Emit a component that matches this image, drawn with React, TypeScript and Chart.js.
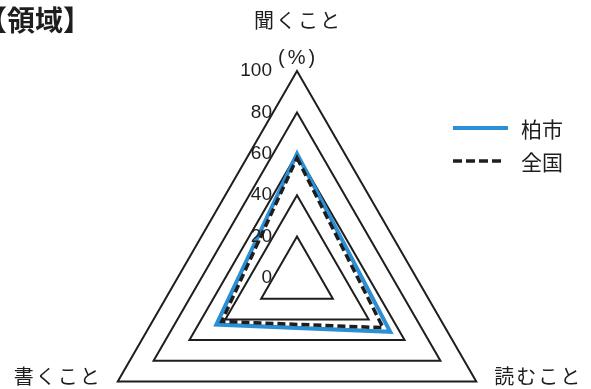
import { useEffect, useRef } from 'react';
import { Chart, registerables } from 'chart.js';

Chart.register(...registerables);

const categories = ['聞くこと', '読むこと', '書くこと'];
const seriesNames = ['柏市', '全国'];
const kashiwaValues = [60, 52, 45];
const nationalValues = [58, 48, 42];
const tickValues = [0, 20, 40, 60, 80, 100];
const titleText = '【領域】';
const unitText = '(%)';

const BLUE = '#2b8fd6';
const DARK = '#1e1e1e';
const JP = '"Noto Sans CJK JP", "Noto Sans", sans-serif';

const overlayPlugin = {
  id: 'overlay',
  afterDraw(chart: any) {
    const ctx = chart.ctx as CanvasRenderingContext2D;
    const scale = chart.scales.r;
    ctx.save();
    ctx.fillStyle = DARK;

    // title
    ctx.font = `bold 28px ${JP}`;
    ctx.textAlign = 'left';
    ctx.textBaseline = 'middle';
    ctx.fillText(titleText, -21, 20);

    // point labels
    ctx.font = `20px ${JP}`;
    (ctx as any).letterSpacing = '2px';
    const p0 = scale.getPointPositionForValue(0, 100);
    const p1 = scale.getPointPositionForValue(1, 100);
    const p2 = scale.getPointPositionForValue(2, 100);
    ctx.textAlign = 'center';
    ctx.fillText(categories[0], p0.x + 1, p0.y - 51);
    ctx.textAlign = 'left';
    ctx.fillText(categories[1], p1.x + 18, p1.y - 5);
    ctx.textAlign = 'right';
    ctx.fillText(categories[2], p2.x - 16, p2.y - 5);

    // tick labels
    (ctx as any).letterSpacing = '0px';
    ctx.font = '19px "Liberation Sans", Arial, sans-serif';
    ctx.textAlign = 'right';
    tickValues.forEach((v) => {
      const d = scale.getDistanceFromCenterForValue(v);
      ctx.fillText(String(v), scale.xCenter - 25, scale.yCenter - d);
    });

    // unit
    (ctx as any).letterSpacing = '3px';
    ctx.font = '20px "Liberation Sans", Arial, sans-serif';
    ctx.textAlign = 'left';
    ctx.fillText(unitText, scale.xCenter - 19, scale.yCenter - scale.getDistanceFromCenterForValue(100) - 13);
    (ctx as any).letterSpacing = '0px';

    // legend
    const ds = chart.data.datasets;
    const rows = [128, 161];
    rows.forEach((y, i) => {
      ctx.save();
      ctx.strokeStyle = ds[i].borderColor;
      ctx.lineWidth = i === 0 ? 4 : 3.5;
      ctx.setLineDash(i === 0 ? [] : [9, 4]);
      ctx.beginPath();
      ctx.moveTo(453, y);
      ctx.lineTo(i === 0 ? 508 : 502, y);
      ctx.stroke();
      ctx.restore();
      ctx.font = `21px ${JP}`;
      ctx.textAlign = 'left';
      ctx.textBaseline = 'middle';
      ctx.fillStyle = DARK;
      ctx.fillText(seriesNames[i], 521, y + 1);
    });

    ctx.restore();
  },
};

export default function App() {
  const ref = useRef<HTMLCanvasElement | null>(null);

  useEffect(() => {
    if (!ref.current) return;
    const chart = new Chart(ref.current, {
      type: 'radar',
      data: {
        labels: categories,
        datasets: [
          {
            label: seriesNames[0],
            data: kashiwaValues,
            borderColor: BLUE,
            borderWidth: 4,
            pointRadius: 0,
            fill: false,
            order: 2,
            borderJoinStyle: 'miter',
          } as any,
          {
            label: seriesNames[1],
            data: nationalValues,
            borderColor: DARK,
            borderWidth: 3.5,
            borderDash: [8, 4],
            pointRadius: 0,
            fill: false,
            order: 1,
            borderJoinStyle: 'miter',
          } as any,
        ],
      },
      options: {
        responsive: false,
        animation: false,
        devicePixelRatio: 1,
        layout: { padding: { left: 90, right: 87, top: 71, bottom: 1 } },
        plugins: {
          legend: { display: false },
          title: { display: false },
          tooltip: { enabled: false },
        },
        elements: { line: { tension: 0 } },
        scales: {
          r: {
            min: 0,
            max: 100,
            ticks: { stepSize: 20, display: false },
            grid: { color: DARK, lineWidth: 2, circular: false },
            angleLines: { display: false },
            pointLabels: { display: false },
          },
        },
      },
      plugins: [overlayPlugin],
    });
    return () => chart.destroy();
  }, []);

  return (
    <div
      style={{
        position: 'fixed',
        left: 0,
        top: 0,
        width: 591,
        height: 389,
        overflow: 'hidden',
        background: '#fff',
      }}
    >
      <canvas ref={ref} width={591} height={486} style={{ display: 'block' }} />
    </div>
  );
}
